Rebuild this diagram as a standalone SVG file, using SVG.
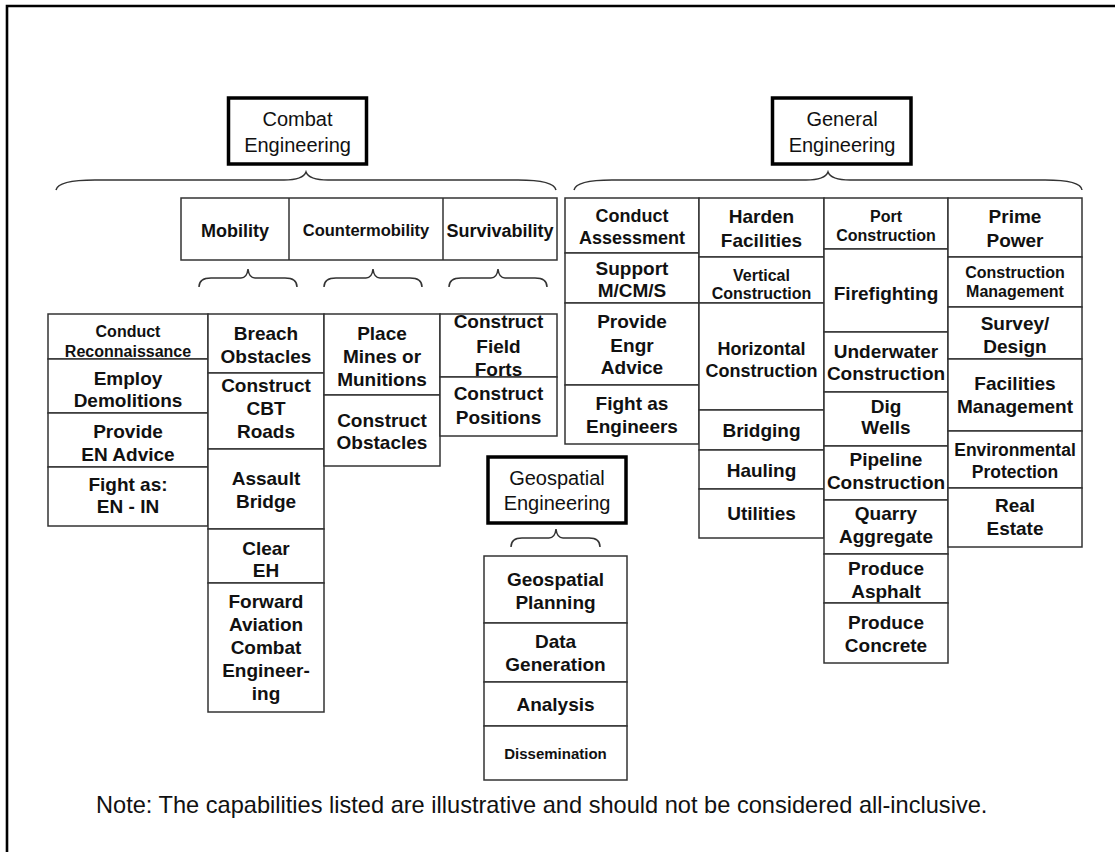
<svg xmlns="http://www.w3.org/2000/svg" width="1115" height="852" viewBox="0 0 1115 852">
  <style>
    .cell { fill: #fff; stroke: #333; stroke-width: 1.5; }
    .title { fill: #fff; stroke: #000; stroke-width: 3.5; }
    .brace { fill: none; stroke: #333; stroke-width: 1.5; }
    text { font-family: "Liberation Sans", Arial, sans-serif; fill: #111; text-anchor: middle; }
    .b { font-weight: bold; font-size: 19px; }
    .m { font-weight: bold; font-size: 18px; }
    .s { font-weight: bold; font-size: 16px; }
    .xs { font-weight: bold; font-size: 15px; }
    .t { font-size: 20px; }
    .note { font-size: 23.6px; text-anchor: start; }
  </style>

  <rect width="1115" height="852" fill="#fff"/>
  <!-- page frame -->
  <path d="M7,852 L7,6 L1115,6" fill="none" stroke="#000" stroke-width="2.6"/>

  <!-- ===== Combat Engineering ===== -->
  <g id="combat-engineering">
    <rect class="title" x="228.5" y="98" width="138" height="66"/>
    <text class="t" x="297.5" y="126">Combat</text>
    <text class="t" x="297.5" y="151.7">Engineering</text>
  </g>

  <g id="combat-functions">
    <rect class="cell" x="181" y="198" width="376" height="62"/>
    <line x1="289" y1="198" x2="289" y2="260" stroke="#333" stroke-width="1.5"/>
    <line x1="443" y1="198" x2="443" y2="260" stroke="#333" stroke-width="1.5"/>
    <text class="m" x="235" y="236.5">Mobility</text>
    <text style="font-weight:bold;font-size:16.5px" x="366" y="236">Countermobility</text>
    <text class="m" x="500" y="236.5">Survivability</text>
  </g>

  <!-- reconnaissance / general combat tasks -->
  <g id="combat-general">
    <rect class="cell" x="48" y="314" width="160" height="45"/>
    <text class="s" x="128" y="336.7">Conduct</text>
    <text class="s" x="128" y="356.5">Reconnaissance</text>
    <rect class="cell" x="48" y="359" width="160" height="54"/>
    <text class="b" x="128" y="385">Employ</text>
    <text class="b" x="128" y="407.3">Demolitions</text>
    <rect class="cell" x="48" y="413" width="160" height="54"/>
    <text class="b" x="128" y="438.3">Provide</text>
    <text class="b" x="128" y="461">EN Advice</text>
    <rect class="cell" x="48" y="467" width="160" height="59"/>
    <text class="b" x="128" y="491">Fight as:</text>
    <text class="b" x="128" y="513.3">EN - IN</text>
  </g>

  <g id="mobility-tasks">
    <rect class="cell" x="208" y="314" width="116" height="59"/>
    <text class="b" x="266" y="340">Breach</text>
    <text class="b" x="266" y="362.7">Obstacles</text>
    <rect class="cell" x="208" y="373" width="116" height="76"/>
    <text class="b" x="266" y="391.7">Construct</text>
    <text class="b" x="266" y="415">CBT</text>
    <text class="b" x="266" y="437.7">Roads</text>
    <rect class="cell" x="208" y="449" width="116" height="80"/>
    <text class="b" x="266" y="485">Assault</text>
    <text class="b" x="266" y="508.3">Bridge</text>
    <rect class="cell" x="208" y="529" width="116" height="54"/>
    <text class="b" x="266" y="555">Clear</text>
    <text class="b" x="266" y="576.7">EH</text>
    <rect class="cell" x="208" y="583" width="116" height="129"/>
    <text class="b" x="266" y="608.3">Forward</text>
    <text class="b" x="266" y="631">Aviation</text>
    <text class="b" x="266" y="654.3">Combat</text>
    <text class="b" x="266" y="677.3">Engineer-</text>
    <text class="b" x="266" y="700">ing</text>
  </g>

  <g id="countermobility-tasks">
    <rect class="cell" x="324" y="314" width="116" height="81"/>
    <text class="b" x="382" y="340">Place</text>
    <text class="b" x="382" y="362.7">Mines or</text>
    <text class="b" x="382" y="386">Munitions</text>
    <rect class="cell" x="324" y="395" width="116" height="71"/>
    <text class="b" x="382" y="426.7">Construct</text>
    <text class="b" x="382" y="449.3">Obstacles</text>
  </g>

  <g id="survivability-tasks">
    <rect class="cell" x="440" y="314" width="117" height="63"/>
    <text class="b" x="498.5" y="328.3">Construct</text>
    <text class="b" x="498.5" y="352.7">Field</text>
    <text class="b" x="498.5" y="376">Forts</text>
    <rect class="cell" x="440" y="377" width="117" height="59"/>
    <text class="b" x="498.5" y="400">Construct</text>
    <text class="b" x="498.5" y="424">Positions</text>
  </g>

  <!-- ===== Geospatial Engineering ===== -->
  <g id="geospatial-engineering">
    <rect class="title" x="488" y="457" width="138" height="66"/>
    <text class="t" x="557" y="485">Geospatial</text>
    <text class="t" x="557" y="510">Engineering</text>
  </g>

  <g id="geospatial-tasks">
    <rect class="cell" x="484" y="556" width="143" height="67"/>
    <text class="b" x="555.5" y="586">Geospatial</text>
    <text class="b" x="555.5" y="609.3">Planning</text>
    <rect class="cell" x="484" y="623" width="143" height="59"/>
    <text class="b" x="555.5" y="648.3">Data</text>
    <text class="b" x="555.5" y="671">Generation</text>
    <rect class="cell" x="484" y="682" width="143" height="44"/>
    <text class="b" x="555.5" y="711">Analysis</text>
    <rect class="cell" x="484" y="726" width="143" height="54"/>
    <text class="xs" x="555.5" y="759.3">Dissemination</text>
  </g>

  <!-- ===== General Engineering ===== -->
  <g id="general-engineering">
    <rect class="title" x="772.5" y="98" width="138.5" height="66"/>
    <text class="t" x="842" y="126">General</text>
    <text class="t" x="842" y="151.7">Engineering</text>
  </g>

  <g id="general-col-1">
    <rect class="cell" x="565" y="198" width="134" height="55"/>
    <text class="m" x="632" y="221.7">Conduct</text>
    <text class="m" x="632" y="244.3">Assessment</text>
    <rect class="cell" x="565" y="253" width="134" height="50"/>
    <text class="b" x="632" y="275">Support</text>
    <text class="b" x="632" y="296.7">M/CM/S</text>
    <rect class="cell" x="565" y="303" width="134" height="82"/>
    <text class="b" x="632" y="328.3">Provide</text>
    <text class="b" x="632" y="351.7">Engr</text>
    <text class="b" x="632" y="374.3">Advice</text>
    <rect class="cell" x="565" y="385" width="134" height="59"/>
    <text class="b" x="632" y="410">Fight as</text>
    <text class="b" x="632" y="433.3">Engineers</text>
  </g>

  <g id="general-col-2">
    <rect class="cell" x="699" y="198" width="125" height="59"/>
    <text class="b" x="761.5" y="222.7">Harden</text>
    <text class="b" x="761.5" y="246.7">Facilities</text>
    <rect class="cell" x="699" y="257" width="125" height="46"/>
    <text class="s" x="761.5" y="281">Vertical</text>
    <text class="s" x="761.5" y="299">Construction</text>
    <rect class="cell" x="699" y="303" width="125" height="107"/>
    <text class="m" x="761.5" y="355">Horizontal</text>
    <text class="m" x="761.5" y="376.7">Construction</text>
    <rect class="cell" x="699" y="410" width="125" height="40"/>
    <text class="b" x="761.5" y="436.7">Bridging</text>
    <rect class="cell" x="699" y="450" width="125" height="39"/>
    <text class="b" x="761.5" y="476.7">Hauling</text>
    <rect class="cell" x="699" y="489" width="125" height="49"/>
    <text class="b" x="761.5" y="520">Utilities</text>
  </g>

  <g id="general-col-3">
    <rect class="cell" x="824" y="198" width="124" height="51"/>
    <text class="s" x="886" y="221.7">Port</text>
    <text class="s" x="886" y="240.7">Construction</text>
    <rect class="cell" x="824" y="249" width="124" height="83"/>
    <text class="b" x="886" y="300">Firefighting</text>
    <rect class="cell" x="824" y="332" width="124" height="60"/>
    <text class="b" x="886" y="357.7">Underwater</text>
    <text class="b" x="886" y="380">Construction</text>
    <rect class="cell" x="824" y="392" width="124" height="54"/>
    <text class="b" x="886" y="412.7">Dig</text>
    <text class="b" x="886" y="434.3">Wells</text>
    <rect class="cell" x="824" y="446" width="124" height="54"/>
    <text class="b" x="886" y="465.7">Pipeline</text>
    <text class="b" x="886" y="489">Construction</text>
    <rect class="cell" x="824" y="500" width="124" height="54"/>
    <text class="b" x="886" y="520">Quarry</text>
    <text class="b" x="886" y="543.3">Aggregate</text>
    <rect class="cell" x="824" y="554" width="124" height="49"/>
    <text class="b" x="886" y="575">Produce</text>
    <text class="b" x="886" y="598.3">Asphalt</text>
    <rect class="cell" x="824" y="603" width="124" height="60"/>
    <text class="b" x="886" y="629.3">Produce</text>
    <text class="b" x="886" y="652.3">Concrete</text>
  </g>

  <g id="general-col-4">
    <rect class="cell" x="948" y="198" width="134" height="59"/>
    <text class="b" x="1015" y="222.7">Prime</text>
    <text class="b" x="1015" y="246.7">Power</text>
    <rect class="cell" x="948" y="257" width="134" height="50"/>
    <text class="s" x="1015" y="278.3">Construction</text>
    <text class="s" x="1015" y="297.3">Management</text>
    <rect class="cell" x="948" y="307" width="134" height="52"/>
    <text class="b" x="1015" y="330">Survey/</text>
    <text class="b" x="1015" y="352.7">Design</text>
    <rect class="cell" x="948" y="359" width="134" height="72"/>
    <text class="b" x="1015" y="390">Facilities</text>
    <text class="b" x="1015" y="413.3">Management</text>
    <rect class="cell" x="948" y="431" width="134" height="57"/>
    <text style="font-weight:bold;font-size:17.5px" x="1015" y="456">Environmental</text>
    <text style="font-weight:bold;font-size:17.5px" x="1015" y="478.3">Protection</text>
    <rect class="cell" x="948" y="488" width="134" height="59"/>
    <text class="b" x="1015" y="512.3">Real</text>
    <text class="b" x="1015" y="535">Estate</text>
  </g>

  <!-- braces linking each heading to its breakdown -->
  <g id="connectors">
    <path class="brace" d="M56,190 Q58,180 95,180 L284,180 Q303,180 306,172 Q309,180 328,180 L518,180 Q554,180 556,190"/>
    <path class="brace" d="M574,190 Q576,180 612,180 L806,180 Q825,180 828,172 Q831,180 850,180 L1045,180 Q1081,180 1082,190"/>
    <path class="brace" d="M199,287 Q199,278 211,278 L241,278 Q247,278 248,269 Q249,278 255,278 L285,278 Q297,278 297,287"/>
    <path class="brace" d="M324,287 Q324,278 336,278 L366,278 Q372,278 373,269 Q374,278 380,278 L410,278 Q422,278 422,287"/>
    <path class="brace" d="M449,287 Q449,278 461,278 L491,278 Q497,278 498,269 Q499,278 505,278 L535,278 Q547,278 547,287"/>
    <path class="brace" d="M511,547 Q511,538 522,538 L549,538 Q555,538 556,529 Q557,538 563,538 L589,538 Q600,538 600,547"/>
  </g>

  <text class="note" x="96" y="813.3">Note: The capabilities listed are illustrative and should not be considered all-inclusive.</text>
</svg>
